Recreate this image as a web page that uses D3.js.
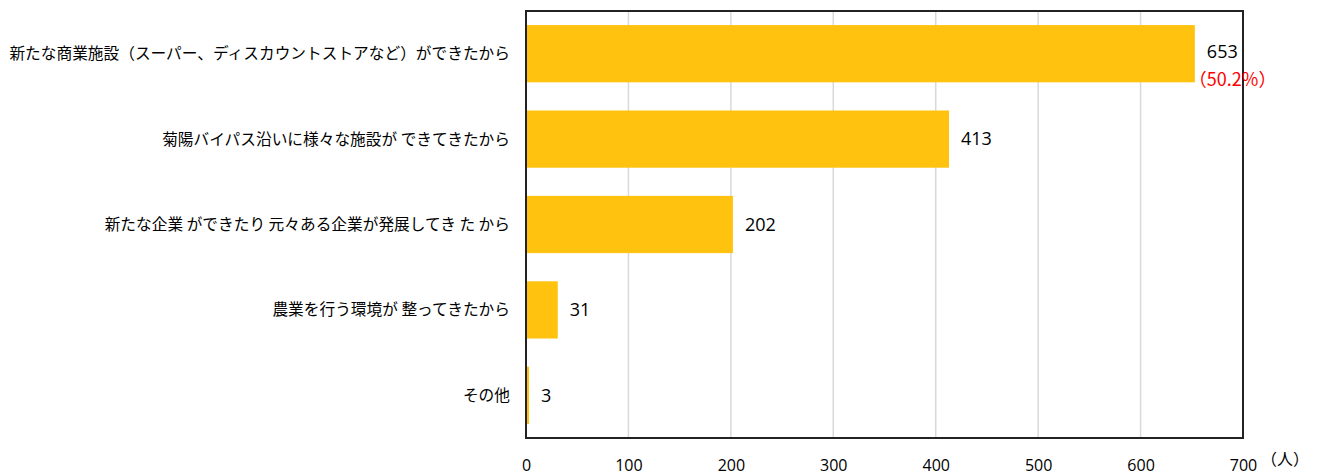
<!DOCTYPE html>
<html>
<head>
<meta charset="utf-8">
<script src="https://cdn.jsdelivr.net/npm/d3@7"></script>
<style>
  body { margin: 0; background: #fff; }
  svg { display: block; font-family: "Noto Sans CJK JP", "Noto Sans", sans-serif; }
</style>
</head>
<body>
<div class="chart"></div>
<script>
(function () {

	var categories = [
		"新たな商業施設（スーパー、ディスカウントストアなど）ができたから",
		"菊陽バイパス沿いに様々な施設が できてきたから",
		"新たな企業 ができたり 元々ある企業が発展してき た から",
		"農業を行う環境が 整ってきたから",
		"その他"
	];
	var values = [653, 413, 202, 31, 3];
	var tickValues = [0, 100, 200, 300, 400, 500, 600, 700];
	var unitLabel = "（人）";
	var topNote = "（50.2%）";

	var width = 1317, height = 475;
	var margin = { top: 11, right: 74, bottom: 37, left: 526 };

	var svg = d3.select(".chart").append("svg")
		.attr("width", width)
		.attr("height", height);

	var x = d3.scaleLinear()
		.domain([0, 700])
		.range([margin.left, width - margin.right]);

	var y = d3.scaleBand()
		.domain(categories)
		.range([margin.top, height - margin.bottom])
		.paddingInner(0.33)
		.paddingOuter(0.165);

	// gridlines
	svg.append("g")
		.selectAll("line")
		.data(tickValues.slice(1, -1))
		.enter().append("line")
		.attr("x1", function(d) { return x(d); })
		.attr("x2", function(d) { return x(d); })
		.attr("y1", margin.top)
		.attr("y2", height - margin.bottom)
		.attr("stroke", "#d9d9d9")
		.attr("stroke-width", 1.5);

	// bars
	svg.append("g")
		.selectAll("rect")
		.data(values)
		.enter().append("rect")
		.attr("x", x(0))
		.attr("y", function(d, i) { return y(categories[i]); })
		.attr("width", function(d) { return x(d) - x(0); })
		.attr("height", y.bandwidth())
		.attr("fill", "#ffc20e");

	// frame
	svg.append("rect")
		.attr("x", margin.left)
		.attr("y", margin.top)
		.attr("width", x(700) - x(0))
		.attr("height", height - margin.bottom - margin.top)
		.attr("fill", "none")
		.attr("stroke", "#222")
		.attr("stroke-width", 2);

	// x axis labels
	var xAxis = d3.axisBottom(x)
		.tickValues(tickValues)
		.tickSize(0)
		.tickPadding(22);
	var gx = svg.append("g")
		.attr("transform", "translate(0," + (height - margin.bottom) + ")")
		.call(xAxis);
	gx.select(".domain").remove();
	gx.selectAll("text")
		.attr("font-family", "'Open Sans', sans-serif")
		.attr("font-size", 16)
		.attr("fill", "#000");

	svg.append("text")
		.attr("x", x(700) + 18)
		.attr("y", height - 10)
		.attr("font-size", 16)
		.attr("fill", "#000")
		.text(unitLabel);

	// category labels
	svg.append("g")
		.selectAll("text")
		.data(categories)
		.enter().append("text")
		.attr("x", margin.left - 16)
		.attr("y", function(d) { return y(d) + y.bandwidth() / 2; })
		.attr("dy", ".35em")
		.attr("text-anchor", "end")
		.attr("font-size", 15.7)
		.attr("fill", "#000")
		.text(function(d) { return d; });

	// value labels
	svg.append("g")
		.selectAll("text")
		.data(values)
		.enter().append("text")
		.attr("x", function(d) { return x(d) + 12; })
		.attr("y", function(d, i) { return y(categories[i]) + y.bandwidth() / 2 + (i === 0 ? -2 : 0); })
		.attr("dy", ".35em")
		.attr("font-family", "'Open Sans', sans-serif")
		.attr("font-size", 18)
		.attr("fill", "#000")
		.text(function(d) { return d; });

	svg.append("text")
		.attr("x", x(values[0]) - 6)
		.attr("y", y(categories[0]) + y.bandwidth() / 2 + 32)
		.attr("font-size", 18)
		.attr("fill", "#ff0000")
		.text(topNote);

})();
</script>
</body>
</html>
